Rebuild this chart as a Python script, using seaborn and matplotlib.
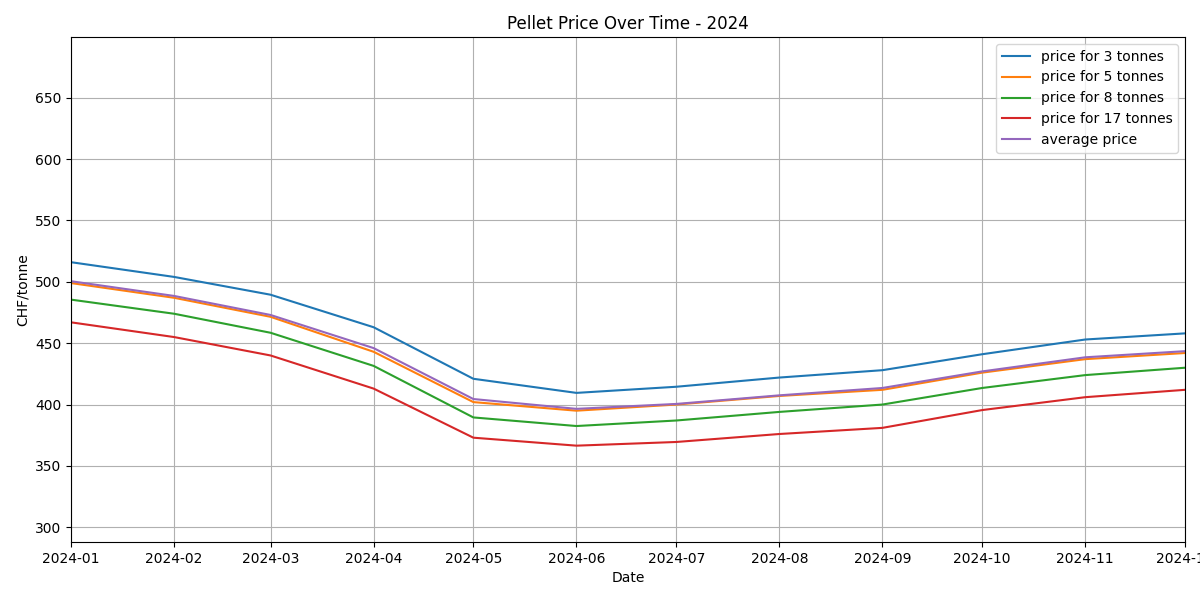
import matplotlib
matplotlib.use("Agg")
import matplotlib.pyplot as plt
import matplotlib.dates as mdates
import seaborn as sns
import pandas as pd
import numpy as np

months = ["2024-01", "2024-02", "2024-03", "2024-04", "2024-05", "2024-06",
          "2024-07", "2024-08", "2024-09", "2024-10", "2024-11", "2024-12"]
price_3t = [516, 504, 489.5, 463, 421, 409.5, 414.5, 422, 428, 441, 453, 458]
price_5t = [499, 487, 471.5, 443, 402, 395, 400, 407, 412, 426, 437, 442]
price_8t = [485.5, 474, 458.5, 431.5, 389.5, 382.5, 387, 394, 400, 413.5, 424, 430]
price_17t = [467, 455, 440, 413, 373, 366.5, 369.5, 376, 381, 395.5, 406, 412]
avg_price = [500.5, 488.5, 473, 446, 404.5, 396.5, 400.5, 407.5, 413.5, 427, 438.5, 443.5]

series = {
    "price for 3 tonnes": price_3t,
    "price for 5 tonnes": price_5t,
    "price for 8 tonnes": price_8t,
    "price for 17 tonnes": price_17t,
    "average price": avg_price,
}
dates = pd.to_datetime(months)
rows = []
for name, vals in series.items():
    for d, v in zip(dates, vals):
        rows.append({"Date": d, "value": v, "series": name})
df = pd.DataFrame(rows)

fig, ax = plt.subplots(figsize=(12, 6), dpi=100)
colors = ["#1f77b4", "#ff7f0e", "#2ca02c", "#d62728", "#9467bd"]
sns.lineplot(data=df, x="Date", y="value", hue="series", palette=colors,
             ax=ax, linewidth=1.5)

ax.set_title("Pellet Price Over Time - 2024", fontsize=12)
ax.set_xlabel("Date")
ax.set_ylabel("CHF/tonne")
ax.set_xlim(dates[0], dates[-1])
ax.set_ylim(288, 699.5)
ax.xaxis.set_major_locator(mdates.MonthLocator())
ax.xaxis.set_major_formatter(mdates.DateFormatter("%Y-%m"))
ax.grid(True, color="#b0b0b0", linewidth=0.8)
ax.legend(loc="upper right", title=None)

fig.subplots_adjust(left=71/1200, right=1185/1200, top=1-37/600, bottom=1-542/600)
fig.savefig("out.png", dpi=100)
